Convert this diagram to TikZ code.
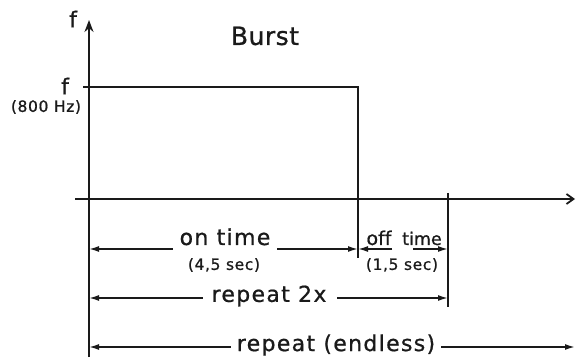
\documentclass[tikz,border=0pt]{standalone}
\usepackage{fontspec}
\setmainfont{DejaVu Sans}[LetterSpace=6,FakeBold=0.8,Ligatures=NoCommon]
\usetikzlibrary{arrows.meta}
\definecolor{ink}{HTML}{1A1A1A}
\begin{document}
\begin{tikzpicture}[x=1pt,y=-1pt,
  line width=1.8pt, draw=ink,
  lbl/.style={font=\fontsize{22}{24}\selectfont, inner sep=0pt, text=ink},
  sm/.style={font=\fontsize{15.5}{17}\selectfont\addfontfeature{LetterSpace=4}, inner sep=0pt, text=ink},
  ofs/.style={font=\fontsize{19}{21}\selectfont\addfontfeature{LetterSpace=0}, inner sep=0pt, text=ink, anchor=base},
  ttl/.style={font=\fontsize{25}{27}\selectfont\addfontfeature{LetterSpace=2}, inner sep=0pt, text=ink},
  dim/.style={-{Latex[length=10pt,width=6pt]}, line width=1.6pt}]
\fill[white] (0,0) rectangle (576,358);
\useasboundingbox (0,0) rectangle (576,358);
% axes
\coordinate (yb) at (89,357);
\coordinate (yt) at (89,20);
\draw[-{Stealth[length=12pt,width=9pt]}] (yb) -- (yt);
\coordinate (xl) at (75,199);
\coordinate (xr) at (575,199);
\draw[-{Straight Barb[length=7pt,width=10pt]}] (xl) -- (xr);
% pulse
\coordinate (pt) at (83,87);
\coordinate (pc) at (358,87);
\coordinate (pb) at (358,258);
\draw (pt) -- (pc) -- (pb);
\coordinate (vt) at (448,193);
\coordinate (vb) at (448,307);
\draw (vt) -- (vb);
% labels
\node[ttl] (burst) at (265,36) {Burst};
\node[lbl] (fax) at (73,19) {f};
\node[lbl] (f) at (65,86) {f};
\node[sm] (hz) at (46,107) {(800 Hz)};
% on time
\node[lbl,anchor=base] (on) at (225,245) {on time};
\node[sm] (ons) at (224,265) {(4,5 sec)};
\coordinate (onL) at (89,249);
\coordinate (onR) at (358,249);
\draw[dim] ([xshift=-6pt]on.west |- onL) -- (onL);
\draw[dim] ([xshift=6pt]on.east |- onR) -- (onR);
% off time
\node[ofs] (off) at (379,245) {of{}f};
\node[ofs,font=\fontsize{17.5}{20}\selectfont\addfontfeature{LetterSpace=0}] (tim) at (422,245) {time};
\node[sm] (offs) at (402,265) {(1,5 sec)};
\coordinate (ofL) at (358,249);
\coordinate (ofR) at (448,249);
\coordinate (ofA) at (392,249);
\coordinate (ofB) at (413,249);
\draw[dim] (ofA) -- (ofL);
\draw[dim] (ofB) -- (ofR);
% repeat 2x
\node[lbl] (r2) at (269,296) {repeat 2x};
\coordinate (r2L) at (89,298);
\coordinate (r2R) at (448,298);
\draw[dim] ([xshift=-8pt]r2.west |- r2L) -- (r2L);
\draw[dim] ([xshift=10pt]r2.east |- r2R) -- (r2R);
% repeat endless
\node[lbl] (re) at (336,345) {repeat (endless)};
\coordinate (reL) at (89,347);
\coordinate (reR) at (575,347);
\draw[dim] ([xshift=-5pt]re.west |- reL) -- (reL);
\draw[dim] ([xshift=5pt]re.east |- reR) -- (reR);
\end{tikzpicture}
\end{document}
